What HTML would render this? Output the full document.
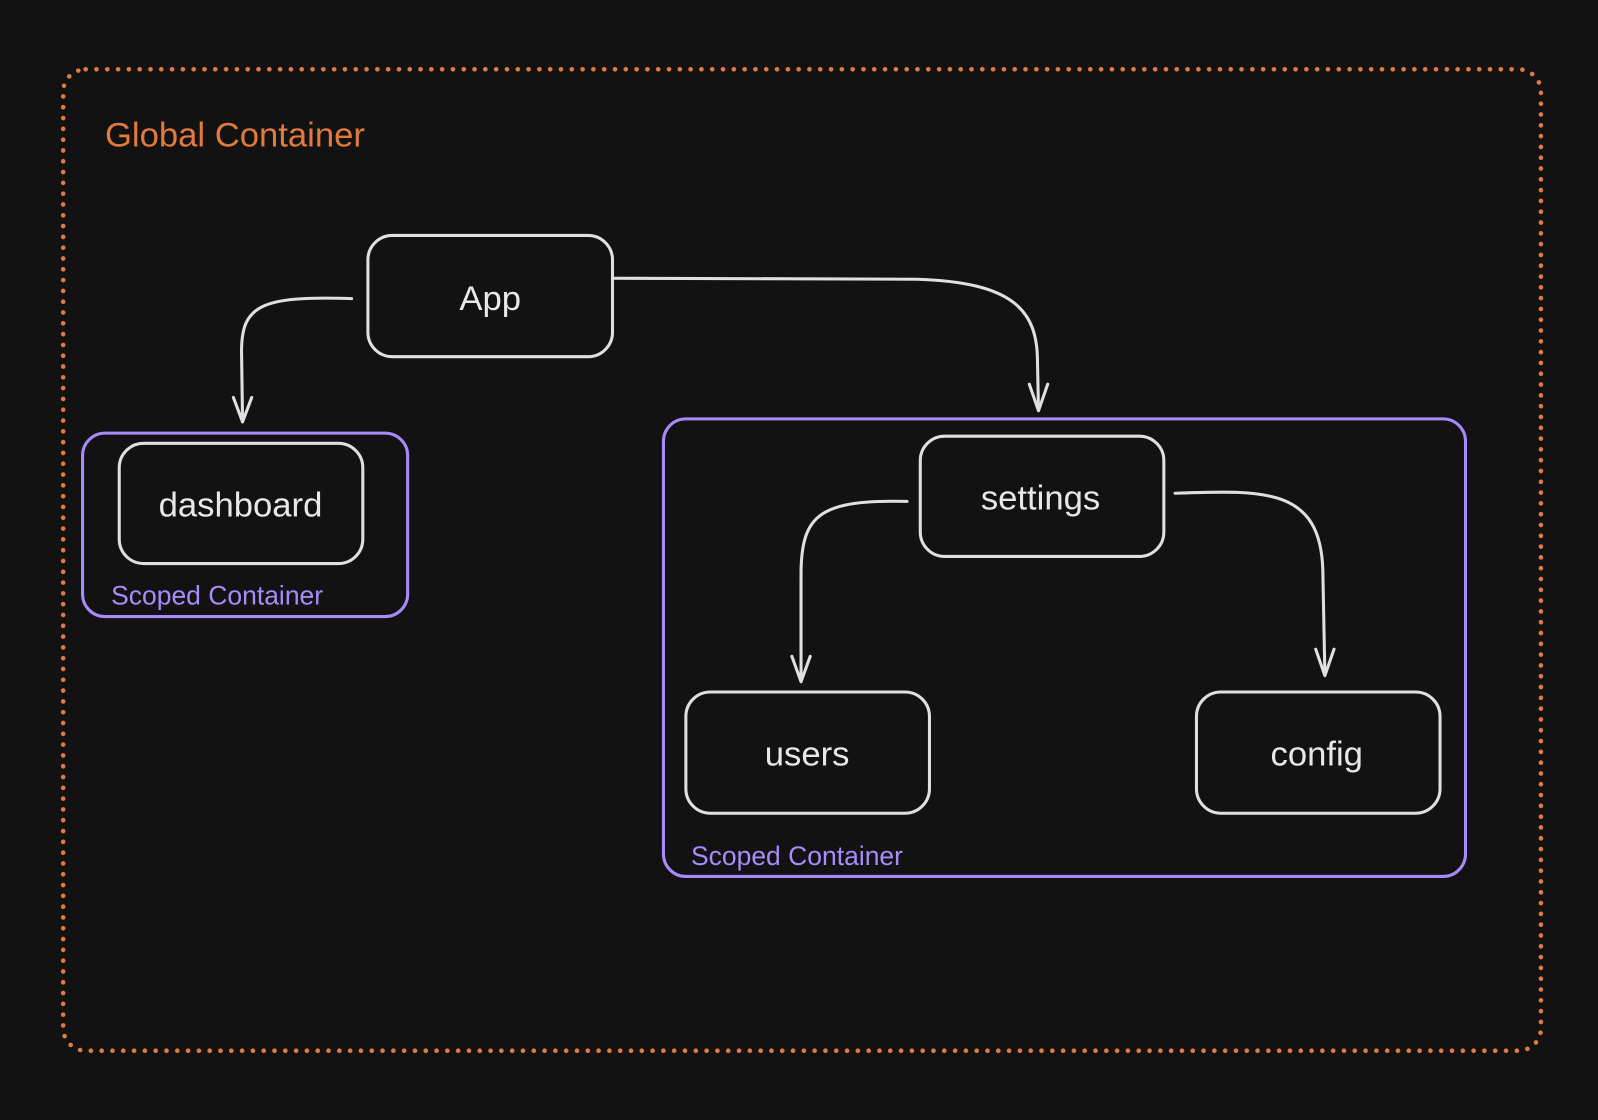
<!DOCTYPE html>
<html><head><meta charset="utf-8"><style>
html,body{margin:0;padding:0;background:#121212;}
svg{display:block;}
text{font-family:"Liberation Sans",sans-serif;}
</style></head><body>
<svg width="1598" height="1120" viewBox="0 0 1568 1099" preserveAspectRatio="none" xmlns="http://www.w3.org/2000/svg">
<rect x="0" y="0" width="1568" height="1099" fill="#121212"/>
<rect x="62" y="68" width="1450" height="963" rx="22" fill="none" stroke="#e07a3f" stroke-width="4.5" stroke-dasharray="0.1 10.5" stroke-linecap="round"/>
<text x="103" y="144" font-size="34" fill="#e07a3f">Global Container</text>

<g fill="none" stroke="#a78bfa" stroke-width="3">
<rect x="81" y="425" width="319" height="180" rx="22"/>
<rect x="651" y="411" width="787" height="449" rx="22"/>
</g>
<g font-size="26" fill="#a78bfa">
<text x="109" y="593">Scoped Container</text>
<text x="678" y="849">Scoped Container</text>
</g>

<g fill="none" stroke="#e0e0e0" stroke-width="3" stroke-linecap="round" stroke-linejoin="round">
<rect x="361" y="231" width="240" height="119" rx="24"/>
<rect x="117" y="435" width="239" height="118" rx="24"/>
<rect x="903" y="428" width="239" height="118" rx="24"/>
<rect x="673" y="679" width="239" height="119" rx="24"/>
<rect x="1174" y="679" width="239" height="119" rx="24"/>

<path d="M345,293 C 255,290 237,300 237,345 L 238,413"/>
<path d="M229,390 L238,414 L247,390"/>
<path d="M603,273 L 900,274 C 995,277 1018,305 1018,355 L 1019,402"/>
<path d="M1010,377 L1019,403 L1028,377"/>
<path d="M890,492 C 805,490 787,505 786,560 L 786,668"/>
<path d="M777,644 L786,669 L795,644"/>
<path d="M1153,484 C 1240,481 1296,478 1298,560 L 1300,662"/>
<path d="M1291,637 L1300,663 L1309,637"/>
</g>

<g font-size="34" fill="#e8e8e8" text-anchor="middle">
<text x="481" y="304">App</text>
<text x="236" y="507">dashboard</text>
<text x="1021" y="500">settings</text>
<text x="792" y="751">users</text>
<text x="1292" y="751">config</text>
</g>
</svg>
</body></html>
